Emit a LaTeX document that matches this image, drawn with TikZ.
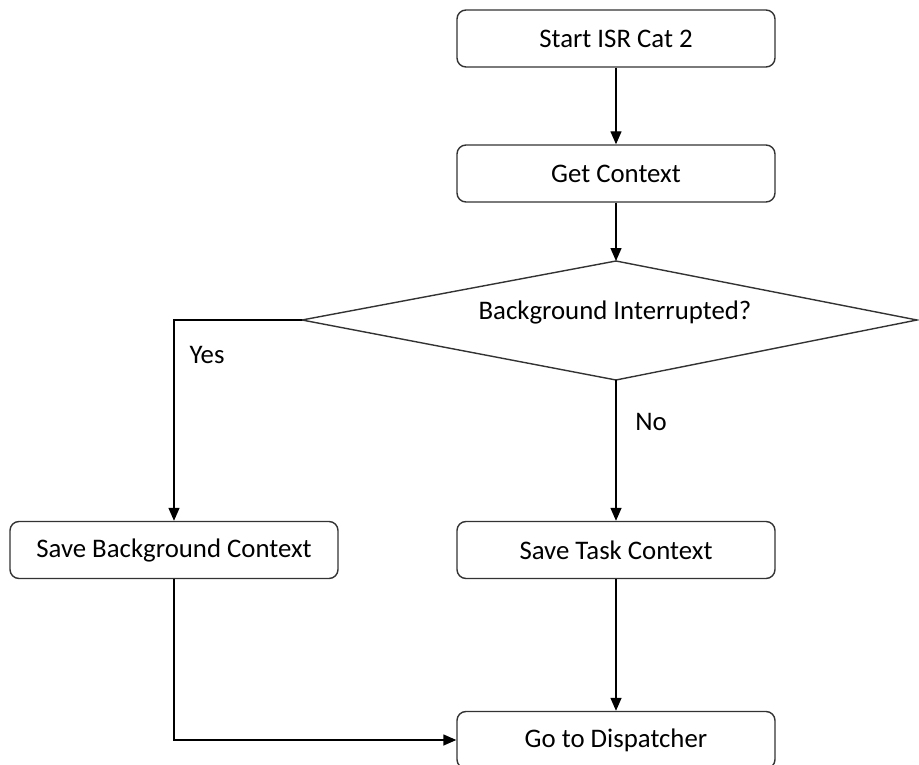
\documentclass[tikz,border=0pt]{standalone}
\usepackage{fontspec}
\setmainfont{Carlito}
\usetikzlibrary{arrows.meta}
\begin{document}
\begin{tikzpicture}[x=1pt,y=-1pt,
  every node/.style={font=\fontsize{26.8}{32}\selectfont, text=black},
  procbox/.style={draw=black!80, line width=1.4pt, rounded corners=9pt,
    minimum height=57pt, inner sep=0pt},
  flow/.style={draw=black, line width=1.4pt, -{Triangle[length=13pt,width=11pt]}},
  plain/.style={draw=black, line width=1.4pt}]
\useasboundingbox (0,0) rectangle (919,765);
\clip (0,0) rectangle (919,765);

% process boxes
\node[procbox, minimum width=318pt] (start) at (616,38.5) {Start ISR Cat 2};
\node[procbox, minimum width=318pt] (ctx)   at (616,173.5) {Get Context};
\node[procbox, minimum width=328pt] (savebg) at (174,550) {Save Background Context};
\node[procbox, minimum width=318pt] (savetask) at (616,550) {Save Task Context};
\node[procbox, minimum width=318pt] (disp) at (616,740) {Go to Dispatcher};

% decision diamond
\coordinate (dTop) at (616,261);
\coordinate (dBot) at (616,380);
\coordinate (dLeft) at (302,320);
\coordinate (dRight) at (917,320);
\draw[draw=black!80, line width=1.4pt] (dTop) -- (dRight) -- (dBot) -- (dLeft) -- cycle;
\node (dq) at (615,312) {Background Interrupted?};

% connectors
\draw[flow] (start) -- (ctx);
\draw[flow] (ctx) -- (dTop);
\draw[flow] (dLeft) -| (savebg);
\draw[flow] (dBot) -- (savetask);
\draw[flow] (savetask) -- (disp);
\draw[flow] (savebg.south) |- (disp.west);

% branch labels
\node (yes) at (207,355) {Yes};
\node (no) at (651,422) {No};
\end{tikzpicture}
\end{document}
